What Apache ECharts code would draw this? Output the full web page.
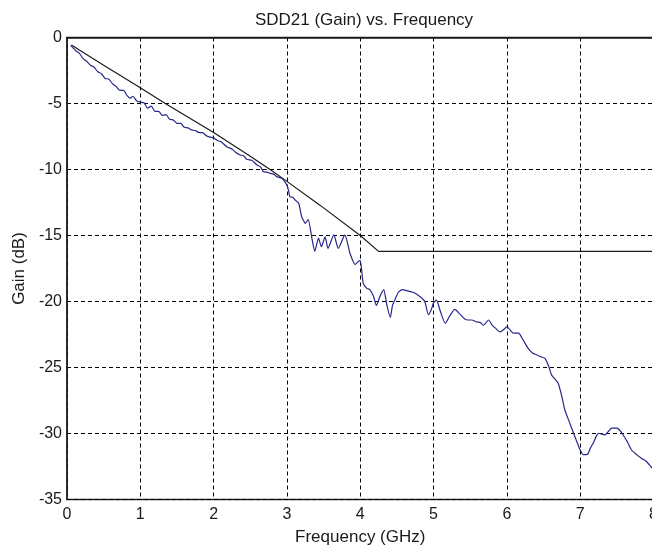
<!DOCTYPE html>
<html lang="en">
<head>
    <meta charset="UTF-8">
    <title>SDD21 Gain</title>
    <script src="https://cdn.jsdelivr.net/npm/echarts@6/dist/echarts.min.js"></script>
    <style>
        html, body { margin: 0; padding: 0; background: #fff; }
    </style>
</head>
<body>
    <div id="chart" style="width: 652px; height: 550px;"></div>
</body>
<script type="text/javascript">

    // ideal (limit) line, black
    var idealFreq = [0.06, 0.5, 1, 1.34, 2, 2.5, 2.77, 3, 3.45, 4, 4.25, 8];
    var idealGain = [-0.57, -2.1, -3.8, -5.0, -7.2, -9.0, -10.0, -10.9, -12.7, -15.0, -16.2, -16.2];

    // measured SDD21, blue
    var measFreq = [
        0.05, 0.12, 0.17, 0.22, 0.27, 0.32, 0.37, 0.42, 0.47, 0.52,
        0.57, 0.62, 0.67, 0.72, 0.77, 0.82, 0.86, 0.90, 0.95, 1.0,
        1.05, 1.10, 1.15, 1.20, 1.25, 1.30, 1.35, 1.40, 1.45, 1.50,
        1.55, 1.60, 1.65, 1.70, 1.75, 1.80, 1.85, 1.90, 1.95, 2.0,
        2.05, 2.10, 2.18, 2.25, 2.30, 2.36, 2.41, 2.45, 2.52, 2.59,
        2.64, 2.68, 2.73, 2.77, 2.82, 2.86, 2.93, 2.97, 3.0, 3.02,
        3.04, 3.08, 3.11, 3.16, 3.2, 3.23, 3.25, 3.29, 3.34, 3.38,
        3.43, 3.47, 3.52, 3.56, 3.64, 3.7, 3.79, 3.86, 3.93, 3.97,
        4.0, 4.04, 4.09, 4.13, 4.18, 4.22, 4.27, 4.32, 4.36, 4.41,
        4.44, 4.47, 4.52, 4.57, 4.65, 4.72, 4.77, 4.83, 4.88, 4.93,
        4.97, 5.0, 5.04, 5.09, 5.16, 5.22, 5.29, 5.35, 5.42, 5.47,
        5.52, 5.59, 5.64, 5.68, 5.75, 5.8, 5.84, 5.91, 5.96, 6.0,
        6.05, 6.09, 6.16, 6.22, 6.29, 6.35, 6.41, 6.47, 6.52, 6.57,
        6.61, 6.66, 6.7, 6.75, 6.79, 6.85, 6.91, 6.96, 7.0, 7.04,
        7.08, 7.11, 7.14, 7.18, 7.22, 7.25, 7.3, 7.34, 7.39, 7.43,
        7.5, 7.54, 7.57, 7.64, 7.7, 7.77, 7.84, 7.9, 7.98, 8.0
    ];
    var measGain = [
        -0.6, -1.0, -1.2, -1.6, -1.8, -2.1, -2.25, -2.6, -2.75, -3.1,
        -3.15, -3.5, -3.7, -4.0, -4.0, -4.4, -4.6, -4.45, -4.8, -4.9,
        -4.95, -5.35, -5.2, -5.6, -5.6, -5.9, -5.85, -6.2, -6.25, -6.5,
        -6.5, -6.8, -6.85, -7.0, -7.05, -7.2, -7.2, -7.45, -7.55, -7.6,
        -7.8, -7.9, -8.27, -8.45, -8.7, -8.9, -8.95, -9.23, -9.3, -9.66,
        -9.8, -10.17, -10.2, -10.29, -10.35, -10.54, -10.67, -10.92, -11.2, -11.55,
        -12.06, -12.1, -12.3, -12.56, -13.57, -13.9, -14.08, -13.8, -15.2, -16.2,
        -15.2, -15.85, -15.1, -15.97, -14.96, -15.97, -14.96, -16.35, -17.2, -16.98,
        -16.9, -18.6, -19.0, -19.1, -19.6, -20.3, -19.6, -19.1, -20.2, -21.2,
        -20.3, -19.9, -19.3, -19.1, -19.2, -19.3, -19.45, -19.7, -20.0, -21.0,
        -20.6, -20.1, -19.9, -20.7, -21.65, -21.1, -20.6, -20.9, -21.3, -21.4,
        -21.4, -21.55, -21.6, -21.8, -21.4, -21.8, -22.0, -22.3, -22.1, -21.9,
        -22.2, -22.4, -22.4, -22.9, -23.55, -23.9, -24.05, -24.2, -24.3, -24.9,
        -25.57, -25.9, -26.2, -27.2, -28.2, -29.1, -29.98, -30.7, -31.25, -31.6,
        -31.6, -31.5, -31.1, -30.7, -30.2, -29.98, -30.05, -30.1, -29.8, -29.6,
        -29.6, -29.75, -29.98, -30.6, -31.25, -31.6, -31.9, -32.1, -32.6, -32.7
    ];

    function pairs(xs, ys) {
        return xs.map(function (x, i) { return [x, ys[i]]; });
    }

    var chart = echarts.init(document.getElementById('chart'));

    var font = 'Liberation Sans, Arial, sans-serif';

    var option = {
        backgroundColor: '#fff',
        animation: false,
        title: {
            text: 'SDD21 (Gain) vs. Frequency',
            left: 359,
            top: 7,
            textAlign: 'center',
            textStyle: {
                fontFamily: font,
                fontSize: 17,
                fontWeight: 'normal',
                color: '#1a1a1a'
            }
        },
        grid: {
            left: 67,
            top: 37.5,
            right: -1.5,
            bottom: 50.5,
            containLabel: false,
            outerBoundsMode: 'none',
            show: true,
            borderColor: '#222',
            borderWidth: 1.5,
            backgroundColor: 'transparent'
        },
        xAxis: {
            type: 'value',
            min: 0,
            max: 8,
            interval: 1,
            name: 'Frequency (GHz)',
            nameLocation: 'middle',
            nameGap: 29,
            nameTextStyle: { fontFamily: font, fontSize: 17, color: '#1a1a1a' },
            axisLine: { lineStyle: { color: '#222', width: 1.5 } },
            axisTick: { show: false },
            axisLabel: { fontFamily: font, fontSize: 16, color: '#1a1a1a', margin: 7 },
            splitLine: { show: true, lineStyle: { color: '#000', type: [4, 3], width: 1 } }
        },
        yAxis: {
            type: 'value',
            min: -35,
            max: 0,
            interval: 5,
            name: 'Gain (dB)',
            nameLocation: 'middle',
            nameGap: 38,
            nameTextStyle: { fontFamily: font, fontSize: 17, color: '#1a1a1a' },
            axisLine: { show: true, lineStyle: { color: '#222', width: 1.5 } },
            axisTick: { show: false },
            axisLabel: { fontFamily: font, fontSize: 16, color: '#1a1a1a', margin: 5 },
            splitLine: { show: true, lineStyle: { color: '#000', type: [4, 3], width: 1 } }
        },
        series: [
            {
                name: 'Limit',
                type: 'line',
                data: pairs(idealFreq, idealGain),
                showSymbol: false,
                lineStyle: { color: '#1a1a1a', width: 1.2 },
                z: 3
            },
            {
                name: 'SDD21',
                type: 'line',
                data: pairs(measFreq, measGain),
                showSymbol: false,
                smooth: 0.2,
                lineStyle: { color: '#27278a', width: 1.2 },
                z: 4
            }
        ]
    };

    chart.setOption(option);

</script>
</html>
